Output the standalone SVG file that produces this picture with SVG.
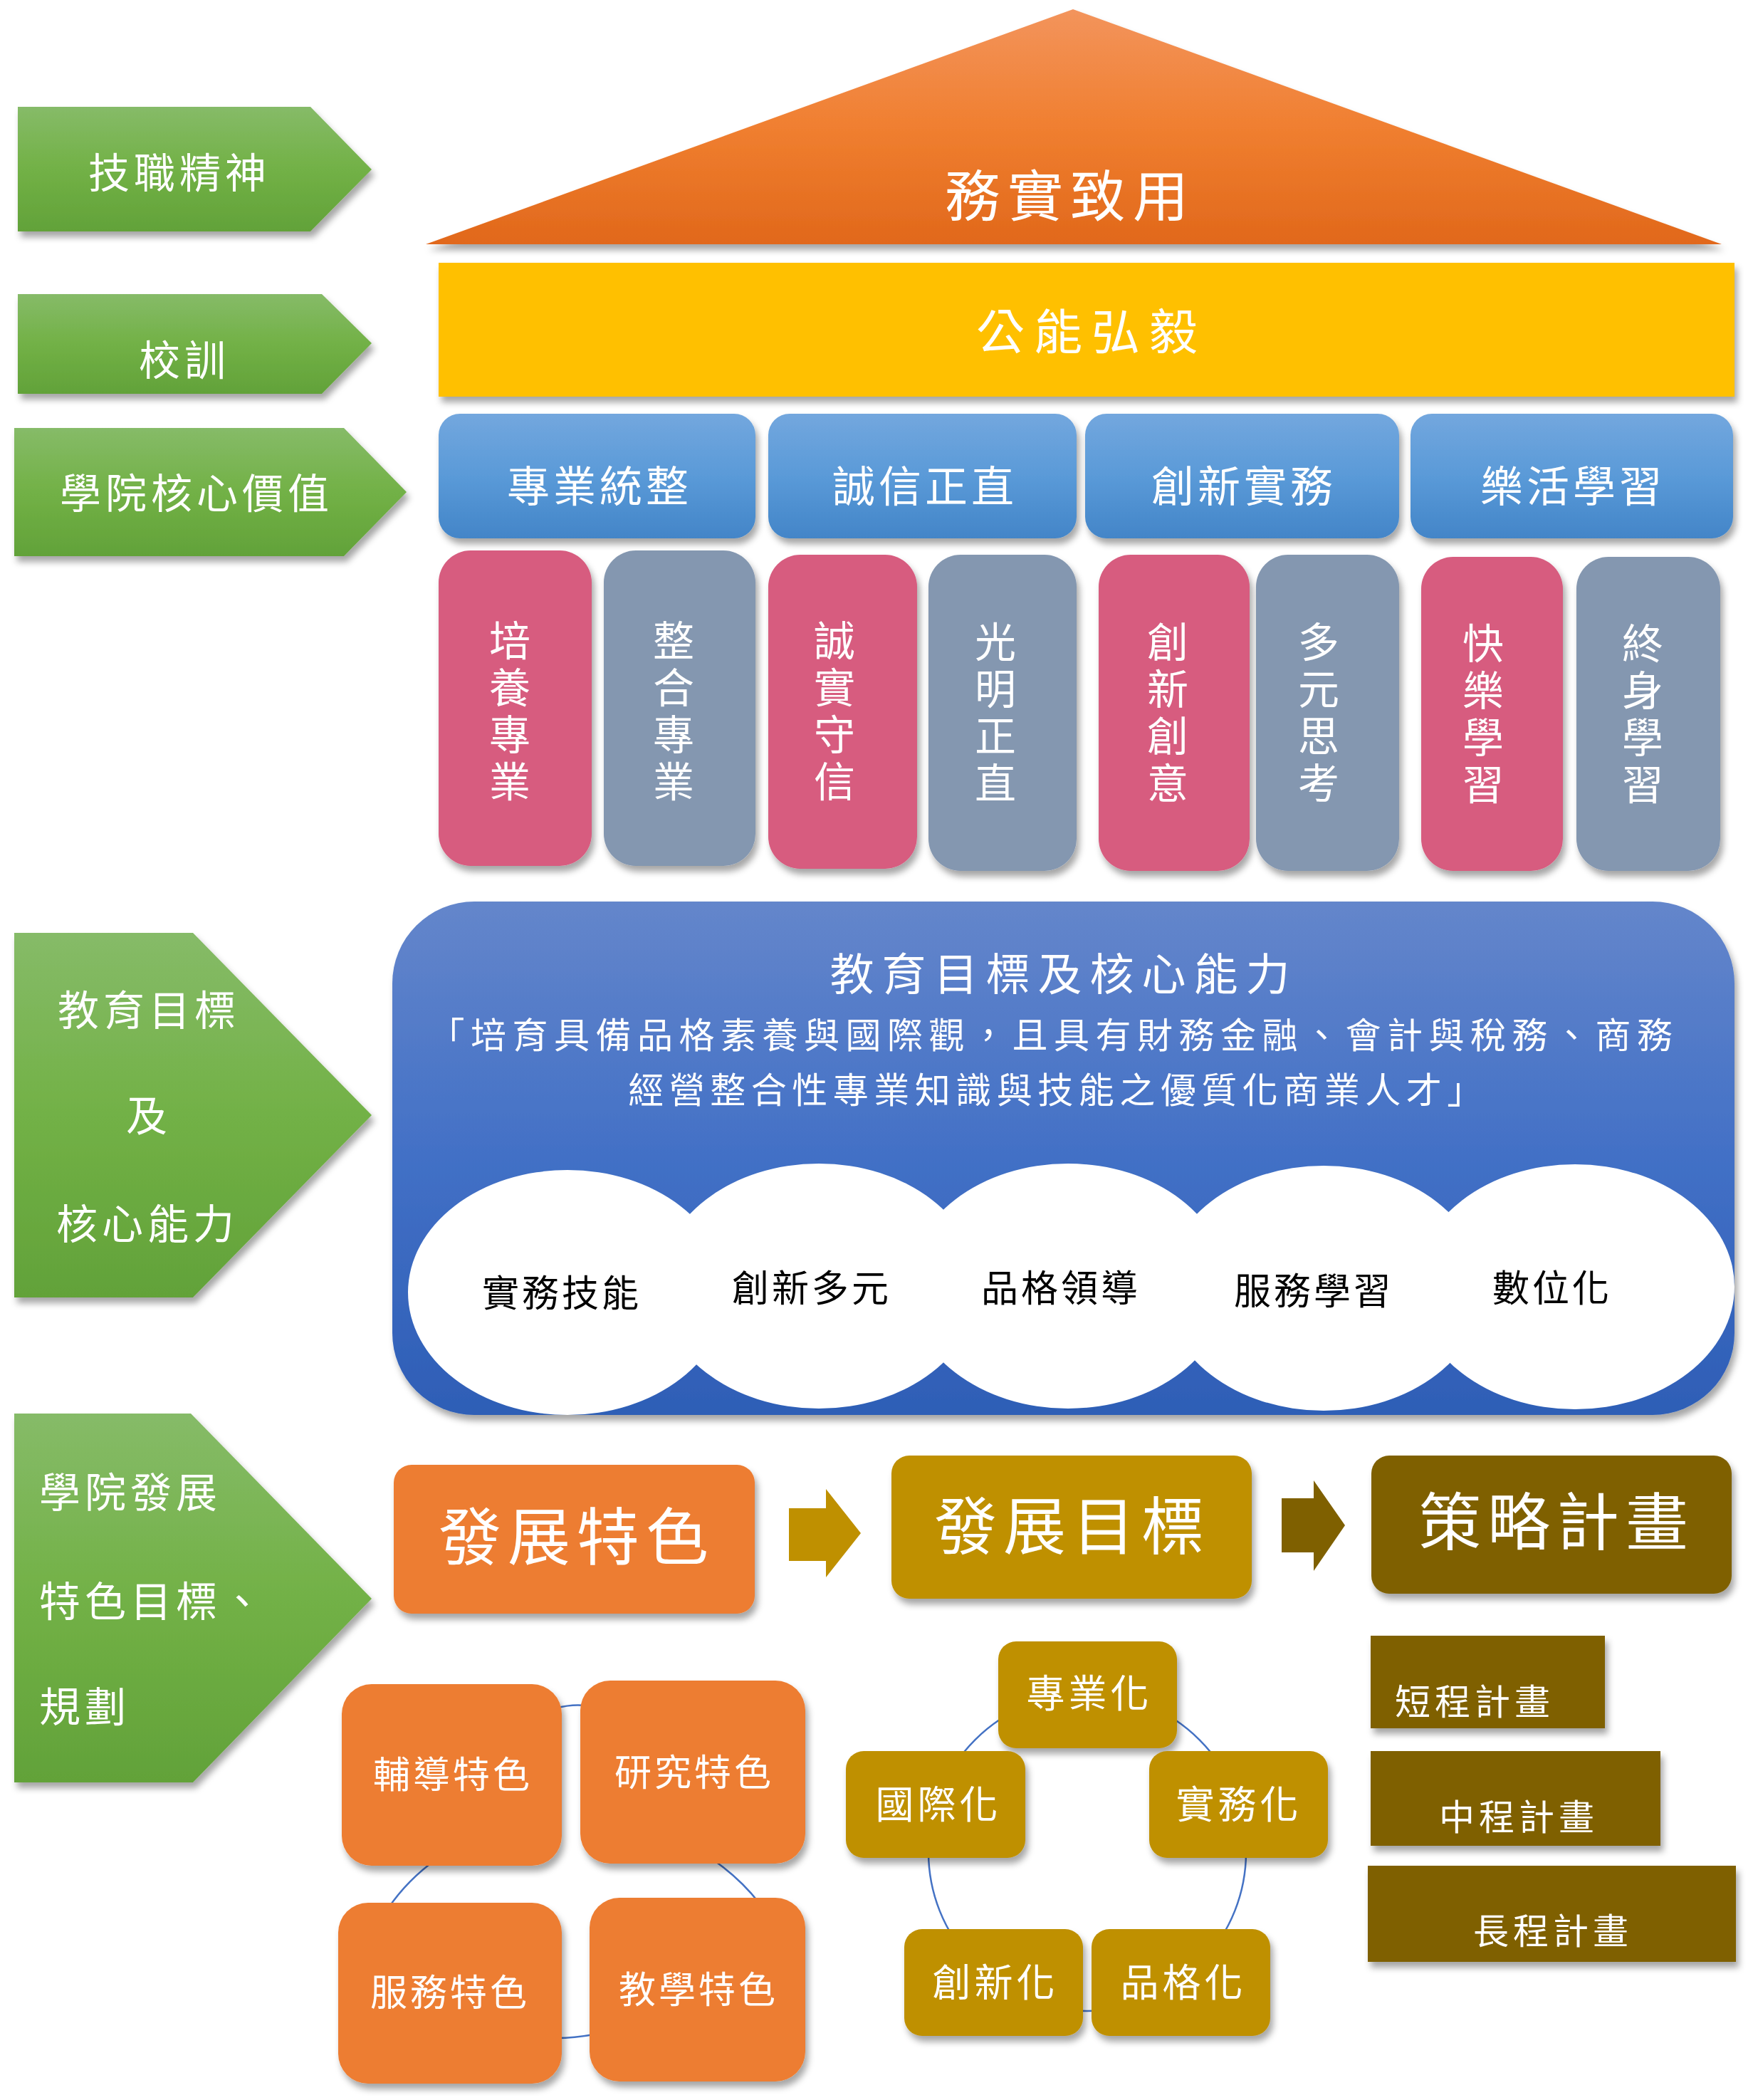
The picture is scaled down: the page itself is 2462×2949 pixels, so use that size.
<svg xmlns="http://www.w3.org/2000/svg" width="2462" height="2949" viewBox="0 0 2462 2949">
<defs>
<linearGradient id="gGreen" x1="0" y1="0" x2="0" y2="1"><stop offset="0" stop-color="#86bb68"/><stop offset="0.5" stop-color="#72b146"/><stop offset="1" stop-color="#62a239"/></linearGradient>
<linearGradient id="gRoof" x1="0" y1="0" x2="0" y2="1"><stop offset="0" stop-color="#f3945c"/><stop offset="0.5" stop-color="#f07f30"/><stop offset="1" stop-color="#e1681b"/></linearGradient>
<linearGradient id="gHead" x1="0" y1="0" x2="0" y2="1"><stop offset="0" stop-color="#73a7de"/><stop offset="0.5" stop-color="#5a9ad8"/><stop offset="1" stop-color="#4385c8"/></linearGradient>
<linearGradient id="gBig" x1="0" y1="0" x2="0" y2="1"><stop offset="0" stop-color="#6486cb"/><stop offset="0.5" stop-color="#4270c6"/><stop offset="1" stop-color="#2e5eb6"/></linearGradient>
<filter id="sh" x="-10%" y="-10%" width="125%" height="130%"><feDropShadow dx="4" dy="8" stdDeviation="5" flood-color="#000" flood-opacity="0.35"/></filter>
<style>
.t{font-family:"Noto Sans CJK TC","Noto Sans CJK SC",sans-serif;fill:#fff;text-anchor:middle;}
.tl{font-family:"Noto Sans CJK TC","Noto Sans CJK SC",sans-serif;fill:#fff;text-anchor:start;}
.k{fill:#000;}
.green{fill:url(#gGreen);filter:url(#sh);}
.head{fill:url(#gHead);filter:url(#sh);}
.pink{fill:#d75b7f;filter:url(#sh);}
.gray{fill:#8497b0;filter:url(#sh);}
.org{fill:#ed7d31;filter:url(#sh);}
.gold{fill:#bf9000;filter:url(#sh);}
.olive{fill:#7f6000;filter:url(#sh);}
.cyc{fill:none;stroke:#4472c4;stroke-width:2.5;}
.a58{font-size:58px;letter-spacing:6px;}
.a60{font-size:60px;letter-spacing:5px;}
.v58{font-size:58px;letter-spacing:8px;writing-mode:tb;}
.c52{font-size:52px;letter-spacing:4px;}
.b88{font-size:88px;letter-spacing:9px;}
.s54{font-size:54px;letter-spacing:5px;}
.p50{font-size:50px;letter-spacing:6px;}
</style>
</defs>
<rect width="2462" height="2949" fill="#fff"/>

<g id="connectors">
<path class="cyc" d="M 780 2399 Q 802 2393 822 2395"/>
<path class="cyc" d="M 614 2610 Q 572 2640 545 2680"/>
<path class="cyc" d="M 996 2608 Q 1037 2635 1066 2672"/>
<path class="cyc" d="M 782 2862 Q 806 2862 834 2857"/>
<circle class="cyc" cx="1527" cy="2601" r="223"/>
</g>

<g id="label-jizhi"><polygon class="green" points="25,150 436,150 522,238 436,325 25,325"/><text class="t a58" x="252" y="264">技職精神</text></g>
<g id="label-xiaoxun"><polygon class="green" points="25,413 452,413 522,482 452,553 25,553"/><text class="t a58" x="259" y="527">校訓</text></g>
<g id="label-hexin"><polygon class="green" points="20,601 483,601 571,691 483,781 20,781"/><text class="t a58" x="276" y="714">學院核心價值</text></g>
<g id="label-jiaoyu"><polygon class="green" points="20,1310 271,1310 522,1566 271,1822 20,1822"/>
<text class="t a58" x="209" y="1440">教育目標</text><text class="t a58" x="209" y="1588">及</text><text class="t a58" x="207" y="1740">核心能力</text></g>
<g id="label-fazhan"><polygon class="green" points="20,1985 268,1985 522,2245 271,2503 20,2503"/>
<text class="tl a58" x="55" y="2117">學院發展</text><text class="tl a58" x="55" y="2270">特色目標、</text><text class="tl a58" x="55" y="2418">規劃</text></g>

<g id="roof"><polygon points="598,343 1507,13 2418,343" fill="url(#gRoof)" filter="url(#sh)"/><text class="t" x="1503" y="304" font-size="78" letter-spacing="10">務實致用</text></g>
<g id="motto"><rect x="616" y="369" width="1820" height="188" fill="#ffc000" filter="url(#sh)"/><text class="t" x="1533" y="491" font-size="68" letter-spacing="13">公能弘毅</text></g>

<g id="head-1"><rect class="head" x="616" y="581" width="445" height="175" rx="30"/><text class="t a60" x="842" y="705">專業統整</text></g>
<g id="head-2"><rect class="head" x="1079" y="581" width="433" height="175" rx="30"/><text class="t a60" x="1299" y="705">誠信正直</text></g>
<g id="head-3"><rect class="head" x="1524" y="581" width="441" height="175" rx="30"/><text class="t a60" x="1747" y="705">創新實務</text></g>
<g id="head-4"><rect class="head" x="1981" y="581" width="453" height="175" rx="30"/><text class="t a60" x="2209" y="705">樂活學習</text></g>

<g id="pillar-1"><rect class="pink" x="616" y="773" width="215" height="443" rx="45"/><text class="t v58" x="716" y="1002">培養專業</text></g>
<g id="pillar-2"><rect class="gray" x="848" y="773" width="213" height="443" rx="45"/><text class="t v58" x="946" y="1002">整合專業</text></g>
<g id="pillar-3"><rect class="pink" x="1079" y="779" width="209" height="441" rx="45"/><text class="t v58" x="1172" y="1002">誠實守信</text></g>
<g id="pillar-4"><rect class="gray" x="1304" y="779" width="208" height="444" rx="45"/><text class="t v58" x="1398" y="1004">光明正直</text></g>
<g id="pillar-5"><rect class="pink" x="1543" y="779" width="212" height="444" rx="45"/><text class="t v58" x="1640" y="1004">創新創意</text></g>
<g id="pillar-6"><rect class="gray" x="1764" y="779" width="201" height="444" rx="45"/><text class="t v58" x="1852" y="1004">多元思考</text></g>
<g id="pillar-7"><rect class="pink" x="1996" y="782" width="199" height="441" rx="45"/><text class="t v58" x="2083" y="1006">快樂學習</text></g>
<g id="pillar-8"><rect class="gray" x="2214" y="782" width="202" height="441" rx="45"/><text class="t v58" x="2307" y="1006">終身學習</text></g>

<g id="goals">
<rect x="551" y="1266" width="1885" height="721" rx="115" fill="url(#gBig)" filter="url(#sh)"/>
<text class="t" x="1494" y="1391" font-size="62" letter-spacing="11">教育目標及核心能力</text>
<text class="t" x="1480" y="1472" font-size="50" letter-spacing="8.5">「培育具備品格素養與國際觀，且具有財務金融、會計與稅務、商務</text>
<text class="t" x="1486" y="1549" font-size="50" letter-spacing="7.5">經營整合性專業知識與技能之優質化商業人才」</text>
<g id="clouds" fill="#fff">
<ellipse cx="797" cy="1815" rx="224" ry="172"/>
<ellipse cx="1150" cy="1806" rx="224" ry="172"/>
<ellipse cx="1500" cy="1806" rx="224" ry="172"/>
<ellipse cx="1859" cy="1809" rx="224" ry="172"/>
<ellipse cx="2212" cy="1807" rx="224" ry="172"/>
</g>
<text class="t k c52" x="789" y="1835">實務技能</text>
<text class="t k c52" x="1140" y="1828">創新多元</text>
<text class="t k c52" x="1490" y="1828">品格領導</text>
<text class="t k c52" x="1845" y="1832">服務學習</text>
<text class="t k c52" x="2180" y="1828">數位化</text>
</g>

<g id="feature"><rect class="org" x="553" y="2057" width="507" height="209" rx="25"/><text class="t b88" x="810" y="2190">發展特色</text></g>
<g id="arrow-1"><polygon points="1108,2118 1160,2118 1160,2091 1209,2153 1160,2215 1160,2192 1108,2192" fill="#bf9000"/></g>
<g id="target"><rect class="gold" x="1252" y="2044" width="506" height="201" rx="25"/><text class="t b88" x="1506" y="2175">發展目標</text></g>
<g id="arrow-2"><polygon points="1800,2104 1845,2104 1845,2079 1889,2142 1845,2206 1845,2180 1800,2180" fill="#7f6000"/></g>
<g id="strategy"><rect class="olive" x="1926" y="2044" width="506" height="194" rx="25"/><text class="t b88" x="2186" y="2169">策略計畫</text></g>

<g id="f-fudao"><rect class="org" x="480" y="2365" width="309" height="255" rx="42"/><text class="t c52" x="636" y="2511">輔導特色</text></g>
<g id="f-yanjiu"><rect class="org" x="815" y="2360" width="316" height="257" rx="42"/><text class="t c52" x="975" y="2508">研究特色</text></g>
<g id="f-fuwu"><rect class="org" x="475" y="2672" width="314" height="254" rx="42"/><text class="t c52" x="632" y="2817">服務特色</text></g>
<g id="f-jiaoxue"><rect class="org" x="828" y="2665" width="303" height="258" rx="42"/><text class="t c52" x="981" y="2813">教學特色</text></g>

<g id="g-zhuanye"><rect class="gold" x="1402" y="2305" width="251" height="150" rx="25"/><text class="t s54" x="1530" y="2398">專業化</text></g>
<g id="g-guoji"><rect class="gold" x="1188" y="2459" width="252" height="150" rx="25"/><text class="t s54" x="1318" y="2554">國際化</text></g>
<g id="g-shiwu"><rect class="gold" x="1614" y="2459" width="251" height="150" rx="25"/><text class="t s54" x="1740" y="2554">實務化</text></g>
<g id="g-chuangxin"><rect class="gold" x="1270" y="2709" width="251" height="150" rx="25"/><text class="t s54" x="1398" y="2804">創新化</text></g>
<g id="g-pinge"><rect class="gold" x="1533" y="2709" width="251" height="150" rx="25"/><text class="t s54" x="1662" y="2804">品格化</text></g>

<g id="plan-short"><rect class="olive" x="1925" y="2297" width="329" height="130"/><text class="t p50" x="2071" y="2408">短程計畫</text></g>
<g id="plan-mid"><rect class="olive" x="1925" y="2459" width="407" height="133"/><text class="t p50" x="2133" y="2570">中程計畫</text></g>
<g id="plan-long"><rect class="olive" x="1921" y="2620" width="517" height="135"/><text class="t p50" x="2181" y="2730">長程計畫</text></g>
</svg>
